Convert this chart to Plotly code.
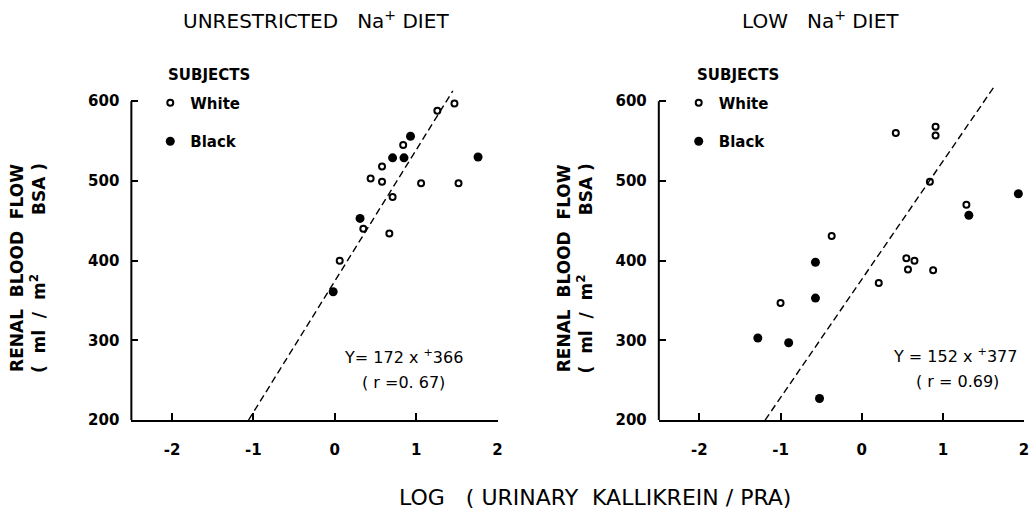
import plotly.graph_objects as go

# ---------------- data ----------------
left_white_x = [0.06, 0.35, 0.44, 0.58, 0.58, 0.71, 0.67, 0.84, 1.06, 1.26, 1.47, 1.52]
left_white_y = [400, 440, 503, 518, 499, 480, 434, 545, 497, 588, 597, 497]
left_black_x = [-0.02, 0.31, 0.71, 0.85, 0.93, 1.76]
left_black_y = [361, 453, 529, 529, 556, 530]

right_white_x = [-1.00, -0.37, 0.21, 0.42, 0.55, 0.65, 0.57, 0.84, 0.88, 0.91, 0.91, 1.29]
right_white_y = [347, 431, 372, 560, 403, 400, 389, 499, 388, 568, 557, 470]
right_black_x = [-1.28, -0.90, -0.57, -0.57, -0.52, 1.32, 1.93]
right_black_y = [303, 297, 398, 353, 227, 457, 484]

left_fit_x = [-1.06, 1.45]
left_fit_y = [200, 613]
right_fit_x = [-1.19, 1.63]
right_fit_y = [200, 618]

x_ticks = [-2, -1, 0, 1, 2]
x_tick_labels = ["-2", "-1", "0", "1", "2"]
y_ticks = [200, 300, 400, 500, 600]
y_tick_labels = ["200", "300", "400", "500", "600"]

NB = "\u00a0"
panel_titles = ["UNRESTRICTED" + NB * 3 + "Na<sup>+</sup>" + NB + "DIET",
                "LOW" + NB * 3 + "Na<sup>+</sup>" + NB + "DIET"]
equations = ["Y=" + NB + "172" + NB + "x" + NB + "<sup>+</sup>366",
             "Y" + NB + "=" + NB + "152" + NB + "x" + NB + "<sup>+</sup>377"]
r_values = ["(" + NB + "r" + NB + "=0." + NB + "67)", "(" + NB + "r" + NB + "=" + NB + "0.69)"]
x_title = ("LOG" + NB * 3 + "(" + NB + "URINARY" + NB * 2 + "KALLIKREIN" + NB + "/" + NB + "PRA)")
y_title = ("RENAL" + NB * 2 + "BLOOD" + NB * 2 + "FLOW<br>"
           "(" + NB * 2 + "ml" + NB * 2 + "/" + NB * 2 + "m<sup>2</sup>" + NB * 10 + "BSA" + NB + ")")

# ---------------- layout constants ----------------
W, H = 1036, 518
FONT = "DejaVu Sans"
X_RANGE = [-2.5, 2.0]
Y_RANGE = [200, 620]
left_dom = [132 / W, 500 / W]
right_dom = [662 / W, 1029 / W]
y_dom = [1 - 427.5 / H, 1 - 86.8 / H]


def ypaper(v):
    return y_dom[0] + (v - Y_RANGE[0]) / (Y_RANGE[1] - Y_RANGE[0]) * (y_dom[1] - y_dom[0])


fig = go.Figure()

white_marker = dict(symbol="circle-open", size=6, color="black", line=dict(width=2, color="black"))
black_marker = dict(symbol="circle", size=9, color="black")
dash_line = dict(color="black", width=1.4, dash="7px,4px")

panels = [
    ("x", "y", "legend", left_white_x, left_white_y, left_black_x, left_black_y, left_fit_x, left_fit_y),
    ("x2", "y2", "legend2", right_white_x, right_white_y, right_black_x, right_black_y, right_fit_x, right_fit_y),
]
for xa, ya, lg, wx, wy, bx, by, fx, fy in panels:
    fig.add_trace(go.Scatter(x=fx, y=fy, mode="lines", line=dash_line, xaxis=xa, yaxis=ya,
                             showlegend=False, hoverinfo="skip"))
    fig.add_trace(go.Scatter(x=wx, y=wy, mode="markers", marker=white_marker, name="White",
                             xaxis=xa, yaxis=ya, legend=lg, legendgroup=lg + "w", cliponaxis=False))
    fig.add_trace(go.Scatter(x=bx, y=by, mode="markers", marker=black_marker, name="Black",
                             xaxis=xa, yaxis=ya, legend=lg, legendgroup=lg + "b", cliponaxis=False))

xaxis_common = dict(range=X_RANGE, tickmode="array", tickvals=x_ticks, ticktext=x_tick_labels,
                    ticks="inside", ticklen=7, tickwidth=2, tickcolor="black",
                    showline=True, linewidth=2, linecolor="black", showgrid=False, zeroline=False,
                    tickfont=dict(family=FONT, size=15, color="black", weight="bold"),
                    ticklabelstandoff=15, fixedrange=True)
yaxis_common = dict(range=Y_RANGE, tickmode="array", tickvals=y_ticks, ticktext=y_tick_labels,
                    ticks="inside", ticklen=7, tickwidth=2, tickcolor="black",
                    showline=False, showgrid=False, zeroline=False, domain=y_dom,
                    tickfont=dict(family=FONT, size=15, color="black", weight="bold"),
                    ticklabelstandoff=11, fixedrange=True)

legend_common = dict(bgcolor="rgba(0,0,0,0)", borderwidth=0, tracegroupgap=16,
                     font=dict(family=FONT, size=15, color="black", weight="bold"),
                     xanchor="left", yanchor="top", itemclick=False, itemdoubleclick=False)

fig.update_layout(
    width=W, height=H,
    margin=dict(l=0, r=0, t=0, b=0),
    paper_bgcolor="white", plot_bgcolor="white",
    font=dict(family=FONT, color="black"),
    xaxis=dict(domain=left_dom, anchor="y", **xaxis_common),
    yaxis=dict(anchor="x", **yaxis_common),
    xaxis2=dict(domain=right_dom, anchor="y2", **xaxis_common),
    yaxis2=dict(anchor="x2", **yaxis_common),
    legend=dict(x=(151) / W, y=1 - 88 / H, **legend_common),
    legend2=dict(x=(682) / W, y=1 - 88 / H, **legend_common),
)

# y axis lines (only from 200 to 600, as in the reference)
for dom in (left_dom, right_dom):
    fig.add_shape(type="line", xref="paper", yref="paper", x0=dom[0], x1=dom[0],
                  y0=ypaper(200), y1=ypaper(600), line=dict(color="black", width=2))

ann = []
title_x = [318, 824]
subj_x = [167, 698]
ytitle_x = [28, 578]
eq_pos = [(405, 363, 405, 389), (960, 362, 962, 388)]
for i in range(2):
    ann.append(dict(text=panel_titles[i], x=title_x[i] / W, y=1 - 20 / H, xref="paper", yref="paper",
                    showarrow=False, xanchor="center", yanchor="middle",
                    font=dict(family=FONT, size=20, color="black")))
    ann.append(dict(text="SUBJECTS", x=subj_x[i] / W, y=1 - 76 / H, xref="paper", yref="paper",
                    showarrow=False, xanchor="left", yanchor="middle",
                    font=dict(family=FONT, size=15, color="black", weight="bold")))
    ann.append(dict(text=y_title, x=ytitle_x[i] / W, y=1 - 273 / H, xref="paper", yref="paper",
                    showarrow=False, xanchor="center", yanchor="middle", textangle=-90,
                    font=dict(family=FONT, size=17, color="black", weight="bold")))
    ex1, ey1, ex2, ey2 = eq_pos[i]
    ann.append(dict(text=equations[i], x=ex1 / W, y=1 - ey1 / H, xref="paper", yref="paper",
                    showarrow=False, xanchor="center", yanchor="middle",
                    font=dict(family=FONT, size=16, color="black")))
    ann.append(dict(text=r_values[i], x=ex2 / W, y=1 - ey2 / H, xref="paper", yref="paper",
                    showarrow=False, xanchor="center", yanchor="middle",
                    font=dict(family=FONT, size=16, color="black")))

ann.append(dict(text=x_title, x=598 / W, y=1 - 506 / H, xref="paper", yref="paper",
                showarrow=False, xanchor="center", yanchor="middle",
                font=dict(family=FONT, size=22, color="black")))
fig.update_layout(annotations=ann)

fig.write_html("out.html", config={"displayModeBar": False},
               post_script="document.body.style.margin='0';")
